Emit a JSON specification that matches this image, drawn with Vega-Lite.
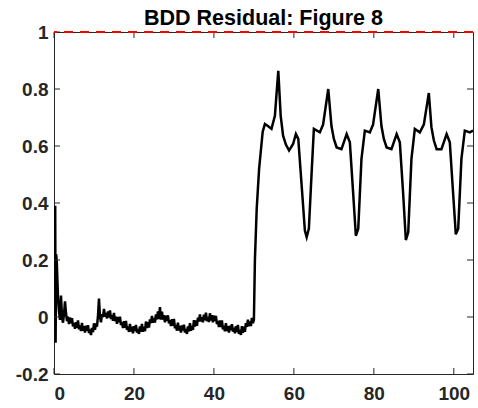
{
  "$schema": "https://vega.github.io/schema/vega-lite/v6.json",
  "autosize": {"type": "none"},
  "padding": {"left": 54, "top": 32, "right": 5, "bottom": 34},
  "width": 419,
  "height": 342,
  "background": "white",
  "title": {"text": "BDD Residual: Figure 8", "font": "Liberation Sans", "fontSize": 21.5, "fontWeight": "bold", "color": "#000000", "anchor": "middle", "offset": -6},
  "config": {
    "view": {"stroke": "#262626", "strokeWidth": 1},
    "axis": {"grid": false, "domainColor": "#262626", "labelColor": "#262626", "labelFont": "Liberation Sans", "labelFontSize": 19, "labelFontWeight": "bold", "ticks": false, "domainWidth": 1}
  },
  "datasets": {
    "xt": [{"v": 0}, {"v": 20}, {"v": 40}, {"v": 60}, {"v": 80}, {"v": 100}],
    "yt": [{"v": -0.2}, {"v": 0}, {"v": 0.2}, {"v": 0.4}, {"v": 0.6}, {"v": 0.8}, {"v": 1}]
  },
  "data": {"values": [
    {"x":0.3,"y":0.39},{"x":0.4,"y":-0.09},{"x":0.55,"y":0.22},{"x":0.7,"y":0.19},{"x":0.85,"y":0.13},{"x":1.0,"y":0.07},{"x":1.25,"y":0.02},{"x":1.5,"y":-0.01},{"x":1.75,"y":0.075},{"x":2.0,"y":0.0},{"x":2.25,"y":-0.02},{"x":2.5,"y":0.01},{"x":2.75,"y":0.055},
    {"x":3.0,"y":0.014},{"x":3.25,"y":-0.0145},{"x":3.5,"y":0.001},{"x":3.75,"y":-0.0245},{"x":4.0,"y":-0.002},{"x":4.25,"y":-0.022},{"x":4.5,"y":-0.004},{"x":4.75,"y":-0.0325},{"x":5.0,"y":-0.021},{"x":5.25,"y":-0.0415},{"x":5.5,"y":-0.018},{"x":5.75,"y":-0.038},{"x":6.0,"y":-0.012},{"x":6.25,"y":-0.043},{"x":6.5,"y":-0.03},{"x":6.75,"y":-0.0495},{"x":7.0,"y":-0.021},{"x":7.25,"y":-0.0485},{"x":7.5,"y":-0.032},{"x":7.75,"y":-0.055},{"x":8.0,"y":-0.03},{"x":8.25,"y":-0.0485},{"x":8.5,"y":-0.029},{"x":8.75,"y":-0.0565},{"x":9.0,"y":-0.044},{"x":9.25,"y":-0.063},{"x":9.5,"y":-0.038},{"x":9.75,"y":-0.053},{"x":10.0,"y":-0.022},{"x":10.25,"y":-0.0445},{"x":10.5,"y":-0.023},{"x":10.75,"y":-0.0335},{"x":11.0,"y":0.004},{"x":11.25,"y":0.065},{"x":11.5,"y":0.001},{"x":11.75,"y":-0.0185},{"x":12.0,"y":0.01},{"x":12.25,"y":0.0},{"x":12.5,"y":0.028},{"x":12.75,"y":0.001},{"x":13.0,"y":0.014},{"x":13.25,"y":-0.005},{"x":13.5,"y":0.02},{"x":13.75,"y":-0.0015},{"x":14.0,"y":0.023},{"x":14.25,"y":-0.007},{"x":14.5,"y":0.007},{"x":14.75,"y":-0.0135},{"x":15.0,"y":0.014},{"x":15.25,"y":-0.0145},{"x":15.5,"y":0.001},{"x":15.75,"y":-0.0235},{"x":16.0,"y":0.0},{"x":16.25,"y":-0.0185},{"x":16.5,"y":0.001},{"x":16.75,"y":-0.0285},{"x":17.0,"y":-0.018},{"x":17.25,"y":-0.0385},{"x":17.5,"y":-0.015},{"x":17.75,"y":-0.0375},{"x":18.0,"y":-0.014},{"x":18.25,"y":-0.0455},{"x":18.5,"y":-0.033},{"x":18.75,"y":-0.0525},{"x":19.0,"y":-0.024},{"x":19.25,"y":-0.051},{"x":19.5,"y":-0.034},{"x":19.75,"y":-0.057},{"x":20.0,"y":-0.032},{"x":20.25,"y":-0.049},{"x":20.5,"y":-0.028},{"x":20.75,"y":-0.055},{"x":21.0,"y":-0.042},{"x":21.25,"y":-0.0595},{"x":21.5,"y":-0.033},{"x":21.75,"y":-0.0515},{"x":22.0,"y":-0.024},{"x":22.25,"y":-0.0515},{"x":22.5,"y":-0.035},{"x":22.75,"y":-0.0495},{"x":23.0,"y":-0.016},{"x":23.25,"y":-0.039},{"x":23.5,"y":-0.018},{"x":23.75,"y":-0.037},{"x":24.0,"y":-0.008},{"x":24.25,"y":-0.021},{"x":24.5,"y":0.004},{"x":24.75,"y":-0.02},{"x":25.0,"y":-0.004},{"x":25.25,"y":-0.0195},{"x":25.5,"y":0.009},{"x":25.75,"y":-0.0085},{"x":26.0,"y":0.02},{"x":26.25,"y":-0.007},{"x":26.5,"y":0.035},{"x":26.75,"y":-0.0095},{"x":27.0,"y":0.019},{"x":27.25,"y":-0.0095},{"x":27.5,"y":0.006},{"x":27.75,"y":-0.0185},{"x":28.0,"y":0.005},{"x":28.25,"y":-0.0135},{"x":28.5,"y":0.006},{"x":28.75,"y":-0.0225},{"x":29.0,"y":-0.011},{"x":29.25,"y":-0.0315},{"x":29.5,"y":-0.008},{"x":29.75,"y":-0.0305},{"x":30.0,"y":-0.007},{"x":30.25,"y":-0.0395},{"x":30.5,"y":-0.028},{"x":30.75,"y":-0.048},{"x":31.0,"y":-0.02},{"x":31.25,"y":-0.0475},{"x":31.5,"y":-0.031},{"x":31.75,"y":-0.0545},{"x":32.0,"y":-0.03},{"x":32.25,"y":-0.0475},{"x":32.5,"y":-0.027},{"x":32.75,"y":-0.0545},{"x":33.0,"y":-0.042},{"x":33.25,"y":-0.0595},{"x":33.5,"y":-0.033},{"x":33.75,"y":-0.0505},{"x":34.0,"y":-0.022},{"x":34.25,"y":-0.0485},{"x":34.5,"y":-0.031},{"x":34.75,"y":-0.045},{"x":35.0,"y":-0.011},{"x":35.25,"y":-0.0335},{"x":35.5,"y":-0.012},{"x":35.75,"y":-0.031},{"x":36.0,"y":-0.002},{"x":36.25,"y":-0.0155},{"x":36.5,"y":0.009},{"x":36.75,"y":-0.016},{"x":37.0,"y":-0.001},{"x":37.25,"y":-0.0185},{"x":37.5,"y":0.008},{"x":37.75,"y":-0.0115},{"x":38.0,"y":0.015},{"x":38.25,"y":-0.0145},{"x":38.5,"y":0.0},{"x":38.75,"y":-0.0175},{"x":39.0,"y":0.013},{"x":39.25,"y":-0.0125},{"x":39.5,"y":0.006},{"x":39.75,"y":-0.0185},{"x":40.0,"y":0.005},{"x":40.25,"y":-0.0145},{"x":40.5,"y":0.004},{"x":40.75,"y":-0.025},{"x":41.0,"y":-0.014},{"x":41.25,"y":-0.035},{"x":41.5,"y":-0.012},{"x":41.75,"y":-0.035},{"x":42.0,"y":-0.012},{"x":42.25,"y":-0.0435},{"x":42.5,"y":-0.031},{"x":42.75,"y":-0.0505},{"x":43.0,"y":-0.022},{"x":43.25,"y":-0.049},{"x":43.5,"y":-0.032},{"x":43.75,"y":-0.055},{"x":44.0,"y":-0.03},{"x":44.25,"y":-0.0465},{"x":44.5,"y":-0.025},{"x":44.75,"y":-0.0515},{"x":45.0,"y":-0.038},{"x":45.25,"y":-0.057},{"x":45.5,"y":-0.032},{"x":45.75,"y":-0.053},{"x":46.0,"y":-0.028},{"x":46.25,"y":-0.059},{"x":46.5,"y":-0.046},{"x":46.75,"y":-0.063},{"x":47.0,"y":-0.032},{"x":47.25,"y":-0.055},{"x":47.5,"y":-0.034},{"x":47.75,"y":-0.052},{"x":48.0,"y":-0.022},{"x":48.25,"y":-0.0345},{"x":48.5,"y":-0.009},{"x":48.75,"y":-0.0325},{"x":49.0,"y":-0.016},{"x":49.25,"y":-0.0315},{"x":49.5,"y":-0.003},{"x":49.75,"y":-0.0215},{"x":50.0,"y":-0.01},
    {"x":50.25,"y":0.2},{"x":50.7,"y":0.38},{"x":51.3,"y":0.52},{"x":52.2,"y":0.65},{"x":52.75,"y":0.677},{"x":53.5,"y":0.67},{"x":54.4,"y":0.66},{"x":55.25,"y":0.706},{"x":56.1,"y":0.864},{"x":56.7,"y":0.706},{"x":57.3,"y":0.636},{"x":58.0,"y":0.605},{"x":58.8,"y":0.584},{"x":59.8,"y":0.607},{"x":60.5,"y":0.642},{"x":61.1,"y":0.625},{"x":61.9,"y":0.47},{"x":62.75,"y":0.303},{"x":63.2,"y":0.28},{"x":63.75,"y":0.31},{"x":64.4,"y":0.496},{"x":65.0,"y":0.66},{"x":66.5,"y":0.648},{"x":67.3,"y":0.675},{"x":68.6,"y":0.8},{"x":69.4,"y":0.67},{"x":70.0,"y":0.625},{"x":70.7,"y":0.595},{"x":71.9,"y":0.589},{"x":73.2,"y":0.642},{"x":74.0,"y":0.613},{"x":74.8,"y":0.44},{"x":75.5,"y":0.285},{"x":76.1,"y":0.31},{"x":76.9,"y":0.554},{"x":77.75,"y":0.654},{"x":79.0,"y":0.648},{"x":79.8,"y":0.675},{"x":81.1,"y":0.8},{"x":81.9,"y":0.67},{"x":82.5,"y":0.625},{"x":83.2,"y":0.595},{"x":84.4,"y":0.589},{"x":85.7,"y":0.642},{"x":86.5,"y":0.613},{"x":87.3,"y":0.44},{"x":88.0,"y":0.27},{"x":88.6,"y":0.297},{"x":89.4,"y":0.554},{"x":90.25,"y":0.66},{"x":91.5,"y":0.648},{"x":92.5,"y":0.675},{"x":93.75,"y":0.786},{"x":94.4,"y":0.666},{"x":95.0,"y":0.62},{"x":95.7,"y":0.589},{"x":96.9,"y":0.589},{"x":98.2,"y":0.642},{"x":99.0,"y":0.613},{"x":99.8,"y":0.44},{"x":100.5,"y":0.29},{"x":101.1,"y":0.31},{"x":101.9,"y":0.554},{"x":102.75,"y":0.654},{"x":104.0,"y":0.648},{"x":104.8,"y":0.654}
  ]},
  "layer": [
    {
      "mark": {"type": "line", "color": "#000000", "strokeWidth": 2.5, "clip": true},
      "encoding": {
        "x": {"field": "x", "type": "quantitative", "title": null, "scale": {"domain": [0, 104.8], "nice": false, "zero": false}, "axis": {"orient": "bottom", "values": [0, 20, 40, 60, 80, 100], "labelPadding": 10, "title": null}},
        "y": {"field": "y", "type": "quantitative", "title": null, "scale": {"domain": [-0.2, 1], "nice": false, "zero": false}, "axis": {"orient": "left", "values": [-0.2, 0, 0.2, 0.4, 0.6, 0.8, 1], "labelPadding": 6, "title": null, "labelExpr": "replace(format(datum.value, '~g'), '−', '-')"}}
      }
    },
    {
      "data": {"name": "xt"},
      "mark": {"type": "rule", "color": "#262626", "strokeWidth": 1, "y2Offset": -6},
      "encoding": {
        "x": {"field": "v", "type": "quantitative", "title": null},
        "y": {"datum": -0.2, "type": "quantitative", "title": null},
        "y2": {"datum": -0.2}
      }
    },
    {
      "data": {"name": "xt"},
      "mark": {"type": "rule", "color": "#262626", "strokeWidth": 1, "y2Offset": 6},
      "encoding": {
        "x": {"field": "v", "type": "quantitative", "title": null},
        "y": {"datum": 1, "type": "quantitative", "title": null},
        "y2": {"datum": 1}
      }
    },
    {
      "data": {"name": "yt"},
      "mark": {"type": "rule", "color": "#262626", "strokeWidth": 1, "x2Offset": 6},
      "encoding": {
        "y": {"field": "v", "type": "quantitative", "title": null},
        "x": {"datum": 0, "type": "quantitative", "title": null},
        "x2": {"datum": 0}
      }
    },
    {
      "data": {"name": "yt"},
      "mark": {"type": "rule", "color": "#262626", "strokeWidth": 1, "x2Offset": -6},
      "encoding": {
        "y": {"field": "v", "type": "quantitative", "title": null},
        "x": {"datum": 104.8, "type": "quantitative", "title": null},
        "x2": {"datum": 104.8}
      }
    },
    {
      "mark": {"type": "rule", "color": "#ff0000", "strokeWidth": 1.5, "strokeDash": [9, 7]},
      "encoding": {
        "y": {"datum": 1, "type": "quantitative", "title": null}
      }
    }
  ]
}
